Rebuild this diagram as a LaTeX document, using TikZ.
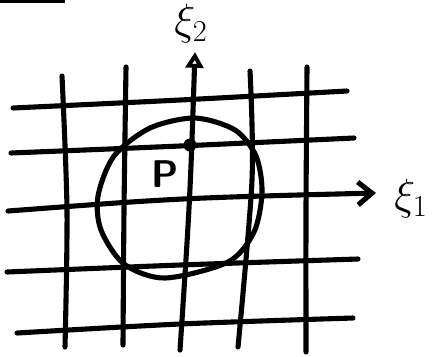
\documentclass[tikz,border=0pt]{standalone}
\usetikzlibrary{arrows.meta}

\begin{document}
\begin{tikzpicture}[x=0.02cm, y=-0.02cm,
    pen/.style={line width=2.9pt, draw=inkColour, line cap=round, line join=round},
    axisLabel/.style={font=\fontsize{26}{30}\selectfont, text=inkColour, inner sep=0pt}]

    \definecolor{inkColour}{HTML}{000000}

    % Fix the page size
    \useasboundingbox (0,0) rectangle (435,356);

    % Stray stroke at the top edge
    \fill[inkColour] (0,0) rectangle (65,2.5);

    % Draw grid (hand drawn, a bit wavy)
    \foreach \xa/\ya/\xm/\ym/\xb/\yb in {13/108/180/100/347/91,
                                         11/153/180/146/354/138,
                                         7/272/180/265/358/259,
                                         17/333/180/324/353/318}
        \draw[pen] plot[smooth] coordinates {(\xa,\ya) (\xm,\ym) (\xb,\yb)};
    \foreach \xa/\ya/\xm/\ym/\xb/\yb in {62/76/67/210/65/347,
                                         126/67/124/210/123/345,
                                         250/71/252/180/238/347,
                                         307/67/306/210/306/352}
        \draw[pen] plot[smooth] coordinates {(\xa,\ya) (\xm,\ym) (\xb,\yb)};

    % Define the ends of the axes
    \coordinate (xiOneStart) at (8,211);
    \coordinate (xiOneEnd) at (376,193);
    \coordinate (xiTwoStart) at (180,350);
    \coordinate (xiTwoEnd) at (195,52);

    % Draw axes
    \draw[pen, -{Straight Barb[length=8pt, width=13pt, line width=2.9pt]}]
        (xiOneStart) .. controls (180,198) .. (xiOneEnd);
    \draw[pen, -{Triangle[open, length=9pt, width=10pt, line width=2.6pt]}]
        (xiTwoStart) .. controls (190,200) .. (xiTwoEnd);

    % Label the axes
    \node[axisLabel] (xiOne) at (411,199) {$\xi_1$};
    \node[axisLabel] (xiTwo) at (191,24) {$\xi_2$};

    % Draw the region round P
    \draw[pen] plot[smooth cycle] coordinates {(195,118) (235,130) (256,156)
        (262,192) (254,232) (228,262) (165,278) (124,264) (101,230) (98,196)
        (114,156) (150,128)};

    % Mark the point P
    \coordinate (P) at (190,145);
    \fill[inkColour] (P) circle (6.5);
    \node[font=\sffamily\bfseries\fontsize{22}{26}\selectfont, text=inkColour]
        (labelP) at (165,174) {P};

\end{tikzpicture}
\end{document}
